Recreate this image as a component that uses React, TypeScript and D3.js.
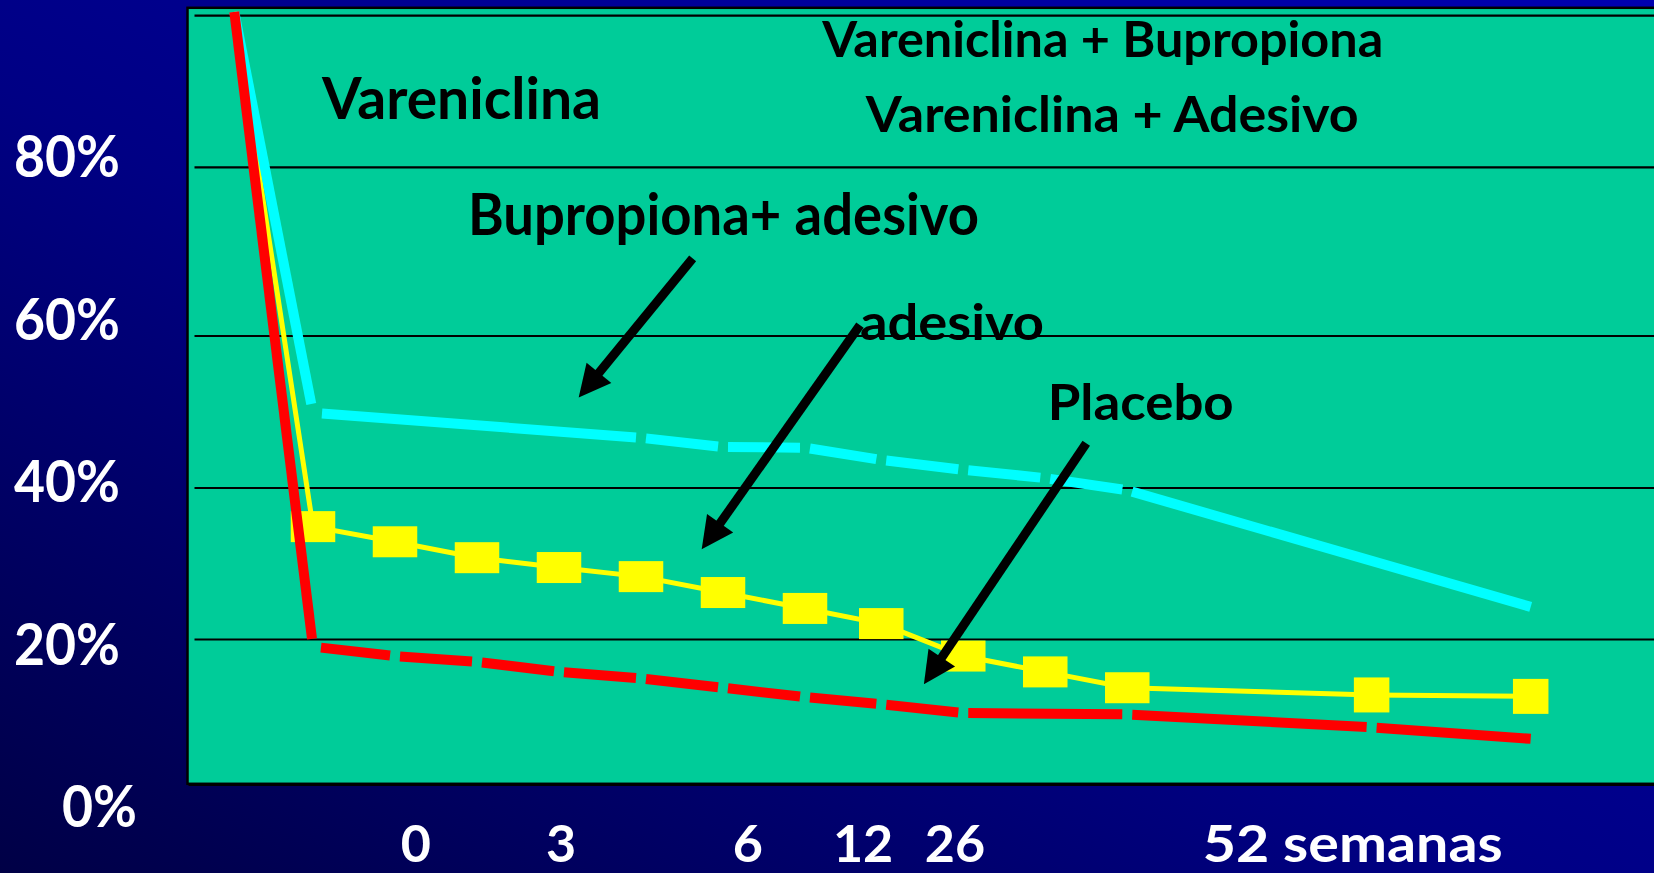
import React from 'react';
import * as d3 from 'd3';

const W = 1654;
const H = 873;

// Visit positions along the time axis (visit index units)
const visitPos = [0.04, 1, 2, 3, 4, 5, 6, 7, 7.93, 8.93, 9.93, 10.93, 13.91, 15.85];

// Abstinence (%) per visit; null = no vertex at that visit
const adesivo = [100.5, 34.9, 32.9, 30.8, 29.5, 28.3, 26.2, 24.1, 22.1, 17.7, 15.5, 13.3, 12.3, 12.1];
const placebo = [100.5, 19.0, 17.7, 16.9, 15.5, 14.6, 13.3, 12.0, 11.0, 9.8, null, 9.6, 7.8, 6.2];
const bupropionaAdesivo = [100.5, 49.9, null, null, null, 46.6, 45.4, 45.3, 43.7, 42.4, 41.3, 39.7, null, 24.3];

const gridValues = [20, 40, 60, 80, 100];
const yTickValues = [0, 20, 40, 60, 80];
const yTickLabels = ['0%', '20%', '40%', '60%', '80%'];
const xTickLabels = ['0', '3', '6', '12', '26', '52 semanas'];
const xTickAt = [2.07, 3.84, 6.12, 7.34, 8.46, 11.85];

// Annotation texts (anchored in data units: visit index, %)
const noteTexts = ['Vareniclina', 'Vareniclina + Bupropiona', 'Vareniclina + Adesivo', 'Bupropiona+ adesivo', 'adesivo', 'Placebo'];
const noteAt = [1.11, 7.21, 7.74, 2.89, 7.67, 9.96];
const noteVal = [86.4, 94.55, 84.6, 71.97, 59.47, 48.95];

// Arrows: tail (t, %) -> tip (t, %)
const arrowTailT = [5.63, 7.67, 10.43];
const arrowTailV = [69.2, 61.3, 45.9];
const arrowTipT = [4.24, 5.74, 8.45];
const arrowTipV = [51.9, 31.9, 13.8];

const FONT = "Lato, 'DejaVu Sans', sans-serif";
const PLOT_LEFT = 187.5;
const PLOT_TOP = 7.8;
const PLOT_BOTTOM = 783.8;

const x = d3.scaleLinear().domain([0, 16]).range([231, 1543]);
const y = d3.scaleLinear().domain([0, 20, 40, 60, 80, 100]).range([783.5, 639.5, 488, 336, 167.3, 15.7]);
const yLabel = d3.scaleLinear().domain([0, 80]).range([827, 177]);

const lineGen = d3.line<[number, number]>().x(d => d[0]).y(d => d[1]);

function points(vals: (number | null)[]): [number, number][] {
  const out: [number, number][] = [];
  visitPos.forEach((t, i) => {
    const v = vals[i];
    if (v != null) out.push([x(t), y(v)]);
  });
  return out;
}

// Each segment between successive vertices is drawn on its own, with a small gap at interior vertices
function gappedSegments(vals: (number | null)[], gap: number, dropGap: number): [number, number][][] {
  const pts = points(vals);
  const segs: [number, number][][] = [];
  for (let i = 0; i < pts.length - 1; i++) {
    const [x0, y0] = pts[i];
    const [x1, y1] = pts[i + 1];
    const len = Math.hypot(x1 - x0, y1 - y0);
    const ux = (x1 - x0) / len;
    const uy = (y1 - y0) / len;
    const g0 = i === 0 ? 0 : i === 1 ? dropGap : gap;
    const g1 = i === pts.length - 2 ? 0 : i === 0 ? dropGap : gap;
    segs.push([
      [x0 + ux * g0, y0 + uy * g0],
      [x1 - ux * g1, y1 - uy * g1],
    ]);
  }
  return segs;
}

function Arrow({ i }: { i: number }) {
  const tx = x(arrowTailT[i]);
  const ty = y(arrowTailV[i]);
  const px = x(arrowTipT[i]);
  const py = y(arrowTipV[i]);
  const len = Math.hypot(px - tx, py - ty);
  const ux = (px - tx) / len;
  const uy = (py - ty) / len;
  const headLen = 32;
  const halfW = 16;
  const bx = px - ux * headLen;
  const by = py - uy * headLen;
  const nx = -uy;
  const ny = ux;
  const head = [
    [px, py],
    [bx + nx * halfW, by + ny * halfW],
    [bx - nx * halfW, by - ny * halfW],
  ];
  return (
    <g>
      <line x1={tx} y1={ty} x2={bx + ux * 3} y2={by + uy * 3} stroke="#000" strokeWidth={9} />
      <polygon points={head.map(p => p.join(',')).join(' ')} fill="#000" />
    </g>
  );
}

const noteSize = [57, 50, 50, 57, 50, 50];
const noteWidth = [279, 561, 493, 511, 184, 186];

export default function App() {
  const cyanSegs = gappedSegments(bupropionaAdesivo, 5, 9);
  const redSegs = gappedSegments(placebo, 5, 8);
  const yellowPts = points(adesivo);

  return (
    <svg
      width={W}
      height={H}
      viewBox={`0 0 ${W} ${H}`}
      style={{ position: 'absolute', left: 0, top: 0, display: 'block' }}
    >
      <defs>
        <linearGradient id="bg" x1="0" y1="1" x2="1" y2="0">
          <stop offset="0" stopColor="#000046" />
          <stop offset="0.45" stopColor="#000084" />
          <stop offset="1" stopColor="#0000b0" />
        </linearGradient>
      </defs>
      <rect x={0} y={0} width={W} height={H} fill="url(#bg)" />

      {/* plot area */}
      <rect
        x={PLOT_LEFT}
        y={PLOT_TOP}
        width={W - PLOT_LEFT + 20}
        height={PLOT_BOTTOM - PLOT_TOP}
        fill="#00CC99"
        stroke="#000"
        strokeWidth={2.5}
      />
      <line x1={PLOT_LEFT + 1} y1={PLOT_BOTTOM + 1.5} x2={W} y2={PLOT_BOTTOM + 1.5} stroke="#000" strokeWidth={1.5} />

      {/* gridlines */}
      {gridValues.map(v => (
        <line key={v} x1={194.5} x2={W} y1={y(v)} y2={y(v)} stroke="#000" strokeWidth={2.2} />
      ))}

      {/* adesivo (yellow) */}
      <path d={lineGen(yellowPts) || ''} fill="none" stroke="#FFFF00" strokeWidth={5} />
      {yellowPts.slice(1).map((p, k) => {
        const i = k + 1;
        const w = i >= 12 ? 35.5 : 44.5;
        const h = i >= 12 ? 35 : 31;
        return <rect key={i} x={p[0] - w / 2} y={p[1] - h / 2} width={w} height={h} fill="#FFFF00" />;
      })}

      {/* bupropiona + adesivo (cyan) */}
      {cyanSegs.map((s, i) => (
        <path key={i} d={lineGen(s) || ''} fill="none" stroke="#00FFFF" strokeWidth={10} />
      ))}

      {/* placebo (red) */}
      {redSegs.map((s, i) => (
        <path key={i} d={lineGen(s) || ''} fill="none" stroke="#FF0000" strokeWidth={10} />
      ))}

      {/* arrows */}
      {arrowTailT.map((_, i) => (
        <Arrow key={i} i={i} />
      ))}

      {/* annotation texts */}
      {noteTexts.map((t, i) => (
        <text
          key={t}
          x={x(noteAt[i])}
          y={y(noteVal[i])}
          fontFamily={FONT}
          fontWeight={700}
          fontSize={noteSize[i]}
          fill="#000"
          textLength={noteWidth[i]}
          lengthAdjust="spacingAndGlyphs"
        >
          {t}
        </text>
      ))}

      {/* y labels */}
      {yTickValues.map((v, i) => (
        <text
          key={v}
          x={v === 0 ? 137 : 120}
          y={yLabel(v)}
          textAnchor="end"
          fontFamily={FONT}
          fontWeight={700}
          fontSize={58}
          fill="#fff"
          textLength={v === 0 ? 75 : 106}
          lengthAdjust="spacingAndGlyphs"
        >
          {yTickLabels[i]}
        </text>
      ))}

      {/* x labels */}
      {xTickLabels.map((l, i) => (
        <text
          key={l}
          x={x(xTickAt[i])}
          y={862}
          fontFamily={FONT}
          fontWeight={700}
          fontSize={52}
          fill="#fff"
          {...(l.length > 2 ? { textLength: 300, lengthAdjust: 'spacingAndGlyphs' } : {})}
        >
          {l}
        </text>
      ))}
    </svg>
  );
}
